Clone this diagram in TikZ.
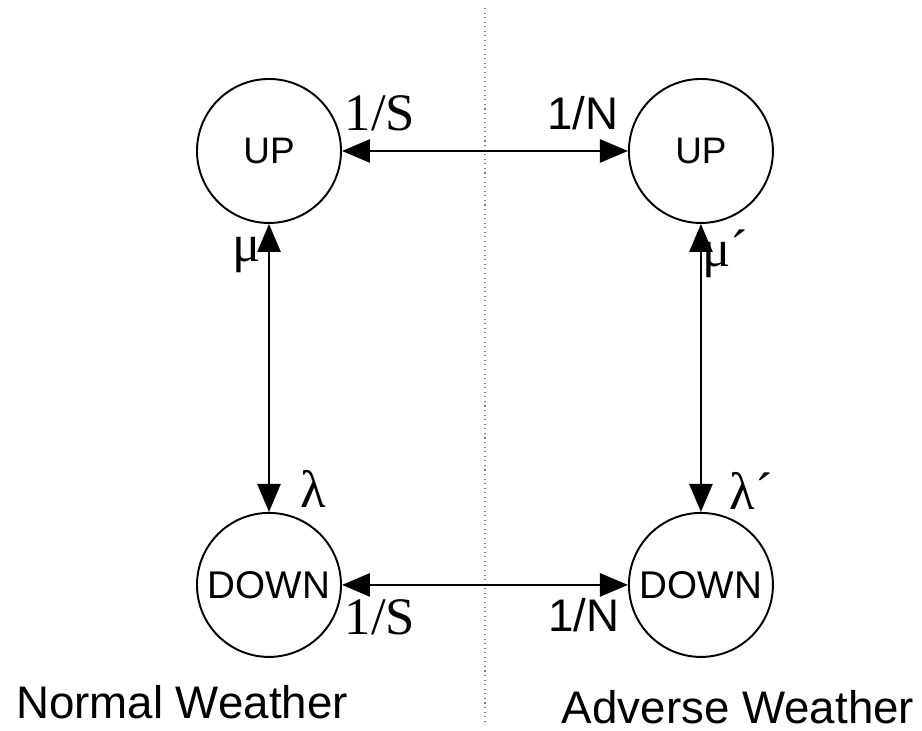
\documentclass[tikz,border=0pt]{standalone}
\usepackage{fontspec}
\setmainfont{Liberation Serif}
\setsansfont{Liberation Sans}
\usetikzlibrary{arrows.meta,positioning}
\tikzset{
	state/.style={draw,circle,line width=1.1pt,minimum size=2.88cm,inner sep=0pt,font=\sffamily\fontsize{21}{21}\selectfont},
	link/.style={line width=1.5pt,{Triangle[length=5.6mm,width=4.6mm]}-{Triangle[length=5.6mm,width=4.6mm]}},
	lab/.style={inner sep=0pt,font=\fontsize{30}{30}\selectfont},
	slab/.style={inner sep=0pt,font=\sffamily\fontsize{26}{26}\selectfont}
}
\begin{document}
\begin{tikzpicture}[line join=round]
	\useasboundingbox (0,0) rectangle (18.44,14.62);
	%duong phan cach
	\coordinate (sepT) at (9.70,14.46);
	\coordinate (sepB) at (9.70,0.18);
	\draw[gray,dotted,line width=0.6pt] (sepT)--(sepB);
	
	%cac trang thai
	\node[state] (upN) at (5.38,11.60) {UP};
	\node[state,right=5.72cm of upN] (upA) {UP};
	\node[state,below=5.76cm of upN,font=\sffamily\fontsize{22}{22}\selectfont] (downN) {DOWN};
	\node[state,below=5.76cm of upA,font=\sffamily\fontsize{22}{22}\selectfont] (downA) {DOWN};
	
	\draw[link] (upN)--(upA);
	\draw[link] (downN)--(downA);
	\draw[link] (upN)--(downN);
	\draw[link] (upA)--(downA);
	
	%nhan
	\node[lab] (sUp) at (7.60,12.36) {1/S};
	\node[slab] (nUp) at (11.66,12.36) {1/N};
	\node[lab] (sDown) at (7.60,2.28) {1/S};
	\node[slab] (nDown) at (11.68,2.32) {1/N};
	\node[lab] (muN) at (4.94,9.52) {μ};
	\node[lab] (muA) at (14.50,9.54) {μ´};
	\node[lab] (laN) at (6.26,4.84) {λ};
	\node[lab] (laA) at (15.02,4.80) {λ´};
	\node[slab] (nw) at (3.64,0.58) {Normal Weather};
	\node[slab] (aw) at (14.76,0.48) {Adverse Weather};
\end{tikzpicture}
\end{document}
